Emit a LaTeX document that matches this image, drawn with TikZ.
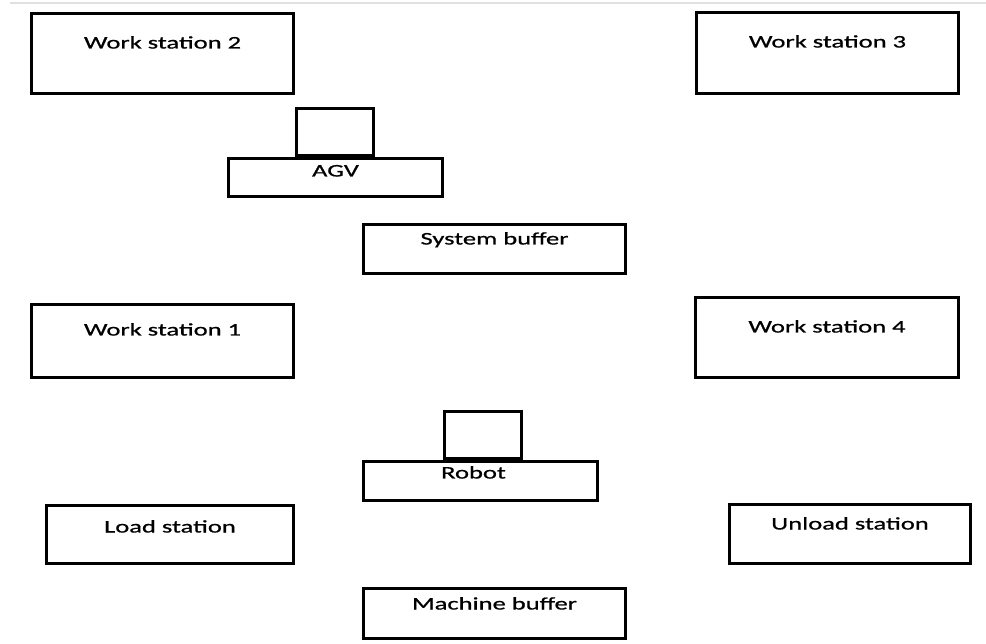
\documentclass[tikz,border=0pt]{standalone}
\usepackage{fontspec}
\usepackage{tikz}
\usetikzlibrary{positioning}
\newfontfamily\boxfont{Carlito}[FakeStretch=1.5, FakeBold=0.8]

\begin{document}
\begin{tikzpicture}[
    x=1pt, y=-1pt,
    box/.style={rectangle, draw=black, line width=3pt, inner sep=0pt},
    tag/.style={anchor=base, inner sep=0pt, font=\boxfont\fontsize{17.7}{20}\selectfont, text=black},
]
    \useasboundingbox (0,0) rectangle (986,644);
    % screenshot edge
    \draw[black!12, line width=1.5pt] (10,3) -- (986,3);

    % work stations
    \node[box, minimum width=262pt, minimum height=80pt,
          label={[tag, yshift=-36.5pt]north:Work station 2}] (ws2) at (162.5,53.5) {};
    \node[box, minimum width=262pt, minimum height=81pt,
          label={[tag, yshift=-36.5pt]north:Work station 3}] (ws3) at (827.5,53) {};
    \node[box, minimum width=262pt, minimum height=73pt,
          label={[tag, yshift=-32.5pt]north:Work station 1}] (ws1) at (162.5,341) {};
    \node[box, minimum width=263pt, minimum height=80pt,
          label={[tag, yshift=-36.5pt]north:Work station 4}] (ws4) at (827,337.5) {};

    % AGV
    \node[box, minimum width=214pt, minimum height=38pt,
          label={[tag, yshift=-19.5pt]north:AGV}] (agv) at (335.5,177.5) {};
    \node[box, minimum width=77pt, minimum height=47pt, anchor=south] (agvtop) at (335,157) {};

    % buffers
    \node[box, minimum width=262pt, minimum height=49pt,
          label={[tag, yshift=-21.5pt]north:System buffer}] (sysbuf) at (494.5,249) {};
    \node[box, minimum width=262pt, minimum height=50pt,
          label={[tag, yshift=-22.5pt]north:Machine buffer}] (machbuf) at (494.5,613.5) {};

    % robot
    \node[box, minimum width=234pt, minimum height=39pt,
          label={[tag, yshift=-18.5pt, xshift=-7pt]north:Robot}] (robot) at (480.5,481) {};
    \node[box, minimum width=77pt, minimum height=47pt, anchor=south] (robottop) at (483,460) {};

    % load / unload
    \node[box, minimum width=247pt, minimum height=58pt,
          label={[tag, yshift=-28.5pt]north:Load station}] (load) at (170,534.5) {};
    \node[box, minimum width=241pt, minimum height=59pt,
          label={[tag, yshift=-26.5pt]north:Unload station}] (unload) at (850,534) {};
\end{tikzpicture}
\end{document}
